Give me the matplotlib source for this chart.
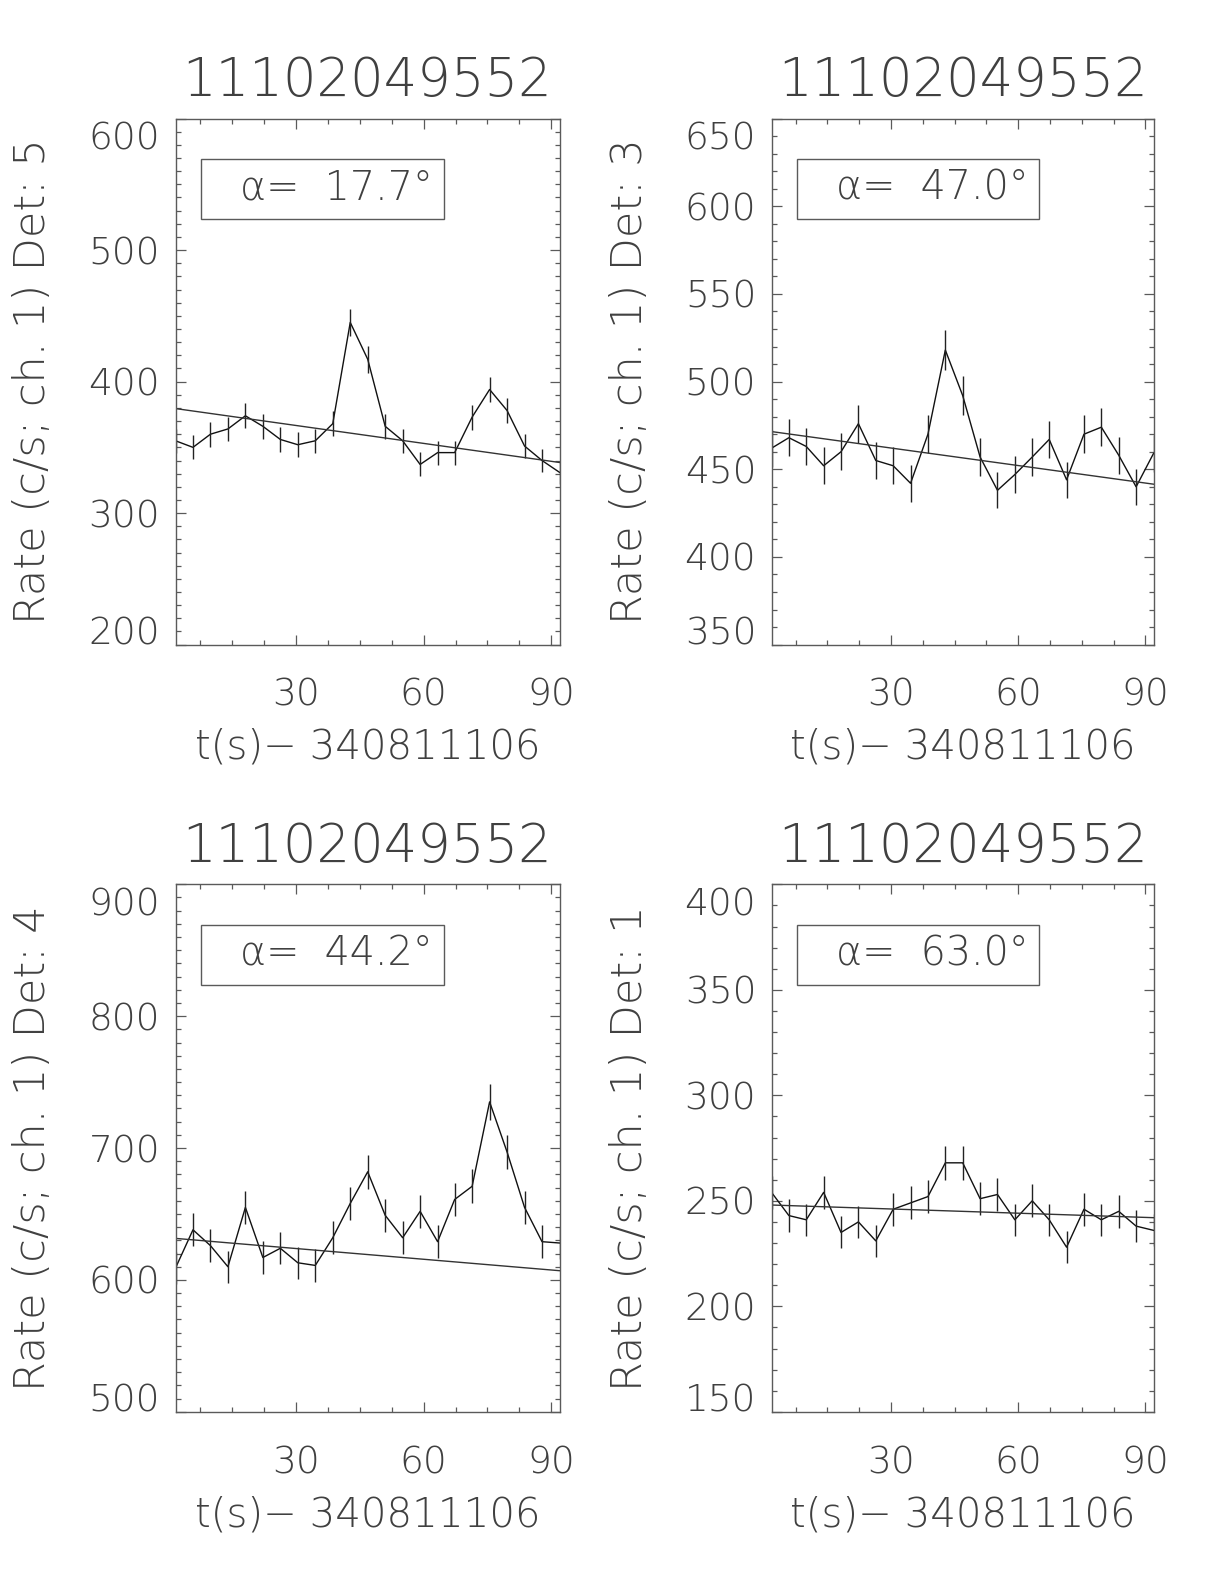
import matplotlib
matplotlib.use("Agg")
import matplotlib.pyplot as plt
from matplotlib.ticker import MultipleLocator, FixedLocator
from matplotlib.patches import Rectangle
import matplotlib.transforms as mtransforms

plt.rcParams['font.family'] = ['DejaVu Sans']
plt.rcParams['font.weight'] = 'light'
plt.rcParams['axes.titleweight'] = 'light'
plt.rcParams['axes.labelweight'] = 'light'

# ---- data ----
time = [1.8, 5.9, 10.0, 14.1, 18.2, 22.3, 26.4, 30.5, 34.6, 38.7, 42.8, 46.9,
        51.0, 55.1, 59.2, 63.3, 67.3, 71.4, 75.5, 79.6, 83.7, 87.8, 91.9]

titles = ["11102049552", "11102049552", "11102049552", "11102049552"]
detectors = ["5", "3", "4", "1"]
alphas = ["17.7", "47.0", "44.2", "63.0"]
x_label = "t(s)\u2212 340811106"

rate_det5 = [355, 350, 360, 364, 374, 366, 356, 352, 355, 368, 445, 417,
             366, 355, 337, 346, 346, 373, 394, 378, 351, 340, 331]
err_det5 = [9.3, 9.2, 9.4, 9.4, 9.6, 9.5, 9.3, 9.3, 9.3, 9.5, 10.4, 10.1,
            9.5, 9.3, 9.1, 9.2, 9.2, 9.5, 9.8, 9.6, 9.3, 9.1, 9.0]
fit_det5 = [379.5, 338.5]

rate_det3 = [462, 468, 463, 452, 460, 476, 455, 452, 442, 470, 518, 492,
             457, 438, 447, 457, 467, 444, 470, 474, 458, 440, 459]
err_det3 = [10.6, 10.7, 10.6, 10.5, 10.6, 10.8, 10.5, 10.5, 10.4, 10.7, 11.2, 11.0,
            10.6, 10.3, 10.4, 10.6, 10.7, 10.4, 10.7, 10.8, 10.6, 10.4, 10.6]
fit_det3 = [471.5, 441.5]

rate_det4 = [609, 638, 626, 610, 655, 617, 624, 613, 611, 632, 658, 682,
             649, 632, 652, 629, 661, 671, 735, 697, 655, 629, 628]
err_det4 = [12.2, 12.5, 12.4, 12.2, 12.6, 12.3, 12.3, 12.2, 12.2, 12.4, 12.7, 12.9,
            12.6, 12.4, 12.6, 12.4, 12.7, 12.8, 13.4, 13.0, 12.6, 12.4, 12.4]
fit_det4 = [631.5, 607.0]

rate_det1 = [254, 243, 241, 254, 235, 240, 231, 246, 249, 252, 268, 268,
             251, 253, 241, 250, 241, 228, 246, 241, 245, 238, 236]
err_det1 = [7.9, 7.7, 7.7, 7.9, 7.6, 7.7, 7.5, 7.8, 7.8, 7.8, 8.1, 8.1,
            7.8, 7.9, 7.7, 7.8, 7.7, 7.5, 7.8, 7.7, 7.7, 7.6, 7.6]
fit_det1 = [248.0, 242.0]

y_ranges = [(200, 600), (350, 650), (500, 900), (150, 400)]
y_steps = [100, 50, 100, 50]
x_major = [30, 60, 90]

rates = [rate_det5, rate_det3, rate_det4, rate_det1]
errs = [err_det5, err_det3, err_det4, err_det1]
fits = [fit_det5, fit_det3, fit_det4, fit_det1]

# ---- layout (pixels) ----
W, H = 1224, 1584
boxes_px = [(175.5, 118.6, 384.0, 526.0), (771.5, 118.6, 382.0, 526.0),
            (175.5, 884.3, 384.0, 527.5), (771.5, 884.3, 382.0, 527.5)]

TXT = '#404040'
AX = '#5a5a5a'
fig = plt.figure(figsize=(W / 100, H / 100), dpi=100)

for i in range(4):
    l, t, w, h = boxes_px[i]
    ax = fig.add_axes([l / W, 1 - (t + h) / H, w / W, h / H])
    ax.plot(time, rates[i], color='#111111', lw=1.0)
    ax.errorbar(time, rates[i], yerr=errs[i], fmt='none', ecolor='#222222',
                elinewidth=1.0, capsize=0)
    ax.plot([time[0], time[-1]], fits[i], color='#333333', lw=1.0)
    ax.set_xlim(time[0], time[-1])
    y0, y1 = y_ranges[i]
    ax.set_ylim(y0, y1)
    ax.xaxis.set_major_locator(FixedLocator(x_major))
    ax.xaxis.set_minor_locator(MultipleLocator(7.5))
    ax.yaxis.set_major_locator(MultipleLocator(y_steps[i]))
    ax.yaxis.set_minor_locator(MultipleLocator(10))
    ax.tick_params(which='both', direction='in', top=True, right=True,
                   color=AX, width=0.9, labelcolor=TXT, labelsize=27)
    ax.tick_params(which='major', length=7)
    ax.tick_params(which='minor', length=3.3)
    ax.tick_params(axis='x', pad=24)
    ax.tick_params(axis='y', pad=11)
    for s in ax.spines.values():
        s.set_color(AX)
        s.set_linewidth(1.0)
    # end labels kept inside the axis extent
    fig.canvas.draw()
    yt = ax.yaxis.get_major_ticks()
    locs = ax.get_yticks()
    for tk, v in zip(yt, locs):
        if abs(v - y1) < 1e-6:
            tk.label1.set_verticalalignment('top')
            tk.label1.set_transform(tk.label1.get_transform() +
                                    mtransforms.ScaledTranslation(0, -3 / 100, fig.dpi_scale_trans))
        elif abs(v - y0) < 1e-6:
            tk.label1.set_verticalalignment('baseline')
    ax.set_title(titles[i], fontsize=38, color=TXT, pad=16, fontweight='light')
    ax.set_xlabel(x_label, fontsize=29, color=TXT, fontweight='light')
    ax.xaxis.set_label_coords(0.5, -0.158)
    ax.set_ylabel(f"Rate (c/s; ch. 1) Det: {detectors[i]}", fontsize=31, color=TXT,
                  fontweight='light')
    ax.yaxis.set_label_coords(-0.318, 0.5)
    ax.add_patch(Rectangle((0.067, 0.81), 0.632, 0.113, transform=ax.transAxes,
                           fill=False, edgecolor=AX, lw=1.0))
    ax.text(0.168, 0.8675, "\u03b1=  " + alphas[i] + "\u00b0", transform=ax.transAxes,
            fontsize=28.5, color=TXT, ha='left', va='center', fontweight='light')

fig.savefig("out.png", dpi=100)
